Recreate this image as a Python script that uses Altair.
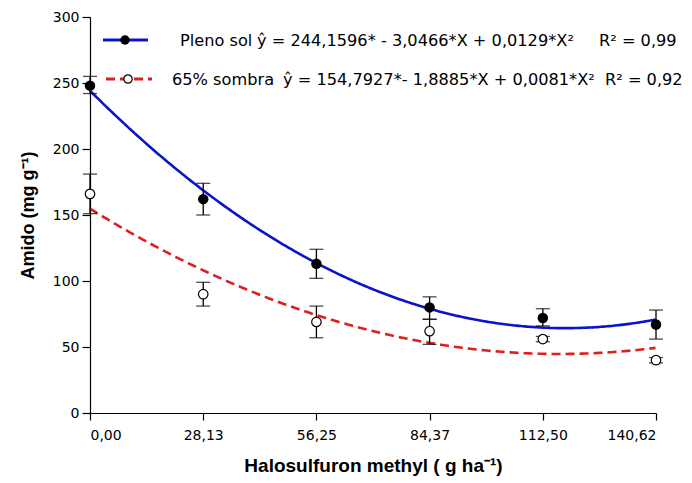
import altair as alt
import pandas as pd

# Doses of halosulfuron-methyl (g ha-1)
doses = [0.00, 28.13, 56.25, 84.37, 112.50, 140.62]

# Starch means and error-bar limits, full sun
sol_mean = [248, 162, 113, 80, 72, 67]
sol_hi = [255, 174, 124, 88, 79, 78]
sol_lo = [242, 150, 102, 71, 66, 56]

# Starch means and error-bar limits, 65% shade
sombra_mean = [166, 90, 69, 62, 56, 40]
sombra_hi = [181, 99, 81, 71, 58, 42]
sombra_lo = [151, 81, 57, 52, 54, 38]

# Quadratic fit coefficients (b0, b1, b2)
sol_coef = [244.1596, -3.0466, 0.0129]
sombra_coef = [154.7927, -1.8885, 0.0081]

FONT = "DejaVu Sans"
TITLE_FONT = "Liberation Sans"
W, H = 566, 396

pts = pd.DataFrame({
    "dose": doses * 2,
    "amido": sol_mean + sombra_mean,
    "hi": sol_hi + sombra_hi,
    "lo": sol_lo + sombra_lo,
    "trat": ["Pleno sol"] * 6 + ["65% sombra"] * 6,
})
sol_pts = pts[pts.trat == "Pleno sol"]
som_pts = pts[pts.trat == "65% sombra"]

x_scale = alt.Scale(domain=[0, 140.62], nice=False, zero=False)
y_scale = alt.Scale(domain=[0, 300], nice=False)

x_axis = alt.Axis(
    values=doses,
    labelExpr="replace(format(datum.value, '.2f'), '.', ',')",
    title="Halosulfuron methyl ( g ha⁻¹)",
    titleFontSize=19, titleFontWeight="bold", titleFont=TITLE_FONT, titleColor="black",
    titlePadding=14,
    labelFontSize=14, labelFont=FONT, labelColor="black", labelPadding=8,
    grid=False, domainColor="black", tickColor="black", tickSize=7,
    domainWidth=1.2, tickWidth=1.2,
)
y_axis = alt.Axis(
    values=[0, 50, 100, 150, 200, 250, 300],
    title="Amido (mg g⁻¹)",
    titleFontSize=18, titleFontWeight="bold", titleFont=TITLE_FONT, titleColor="black",
    titlePadding=15,
    labelFontSize=14, labelFont=FONT, labelColor="black", labelPadding=3,
    grid=False, domainColor="black", tickColor="black", tickSize=8,
    domainWidth=1.2, tickWidth=1.2,
)

x_enc = alt.X("dose:Q", scale=x_scale, axis=x_axis)
y_enc = alt.Y("amido:Q", scale=y_scale, axis=y_axis)


def curve(coef, color, dash=None):
    kw = dict(color=color, strokeWidth=2.6, clip=True)
    if dash:
        kw["strokeDash"] = dash
    return (
        alt.Chart(alt.sequence(0, 140.7, 0.5, as_="dose"))
        .transform_calculate(
            amido=f"{coef[0]} + ({coef[1]})*datum.dose + ({coef[2]})*datum.dose*datum.dose"
        )
        .mark_line(**kw)
        .encode(x=alt.X("dose:Q", scale=x_scale, axis=x_axis),
                y=alt.Y("amido:Q", scale=y_scale, axis=y_axis))
    )


def errorbars(df):
    base = alt.Chart(df)
    stem = base.mark_rule(color="black", strokeWidth=1.3).encode(
        x=x_enc, y=alt.Y("lo:Q", scale=y_scale, axis=y_axis), y2="hi:Q"
    )
    top = base.mark_tick(color="black", orient="horizontal", size=14, thickness=1.3).encode(
        x=x_enc, y=alt.Y("hi:Q", scale=y_scale, axis=y_axis)
    )
    bot = base.mark_tick(color="black", orient="horizontal", size=14, thickness=1.3).encode(
        x=x_enc, y=alt.Y("lo:Q", scale=y_scale, axis=y_axis)
    )
    return stem + top + bot


BLUE = "#0a14c8"
RED = "#dc2020"

sol_curve = curve(sol_coef, BLUE)
som_curve = curve(sombra_coef, RED, dash=[9, 5])

sol_marks = alt.Chart(sol_pts).mark_point(
    shape="circle", filled=True, color="black", size=110, opacity=1
).encode(x=x_enc, y=y_enc)
som_marks = alt.Chart(som_pts).mark_point(
    shape="circle", filled=True, fill="white", stroke="black", strokeWidth=1.2, size=90, opacity=1
).encode(x=x_enc, y=y_enc)

# Legend built from marks
one = alt.Data(values=[{"k": 1}])
leg_sol_line = alt.Chart(one).mark_rule(color=BLUE, strokeWidth=3).encode(
    x=alt.value(13), x2=alt.value(58), y=alt.value(23))
leg_sol_pt = alt.Chart(one).mark_point(shape="circle", filled=True, color="black", size=90, opacity=1).encode(
    x=alt.value(35), y=alt.value(23))
leg_som_line = alt.Chart(one).mark_rule(color=RED, strokeWidth=3, strokeDash=[9, 5]).encode(
    x=alt.value(16), x2=alt.value(62), y=alt.value(62))
leg_som_pt = alt.Chart(one).mark_point(shape="circle", filled=True, fill="white", stroke="black",
                                       strokeWidth=1.2, size=70, opacity=1).encode(
    x=alt.value(38), y=alt.value(62))


def label(txt, x, y):
    return alt.Chart(one).mark_text(
        align="left", baseline="middle", fontSize=16.2, font=FONT, color="black", text=txt
    ).encode(x=alt.value(x), y=alt.value(y))


legend_text = [
    label("Pleno sol", 90, 24),
    label("ŷ = 244,1596* - 3,0466*X + 0,0129*X²", 167, 24),
    label("R² = 0,99", 509, 24),
    label("65% sombra", 82, 63),
    label("ŷ = 154,7927*- 1,8885*X + 0,0081*X²", 193, 63),
    label("R² = 0,92", 515, 63),
]

chart = alt.layer(
    som_curve, sol_curve,
    errorbars(sol_pts), errorbars(som_pts),
    sol_marks, som_marks,
    leg_sol_line, leg_sol_pt, leg_som_line, leg_som_pt, *legend_text,
).properties(
    width=W, height=H,
    padding={"left": 90, "top": 17, "right": 36, "bottom": 70},
    autosize=alt.AutoSizeParams(type="none"),
    background="white",
).configure_view(stroke=None)

chart.save("out.html", embed_options={"renderer": "svg", "actions": False})
